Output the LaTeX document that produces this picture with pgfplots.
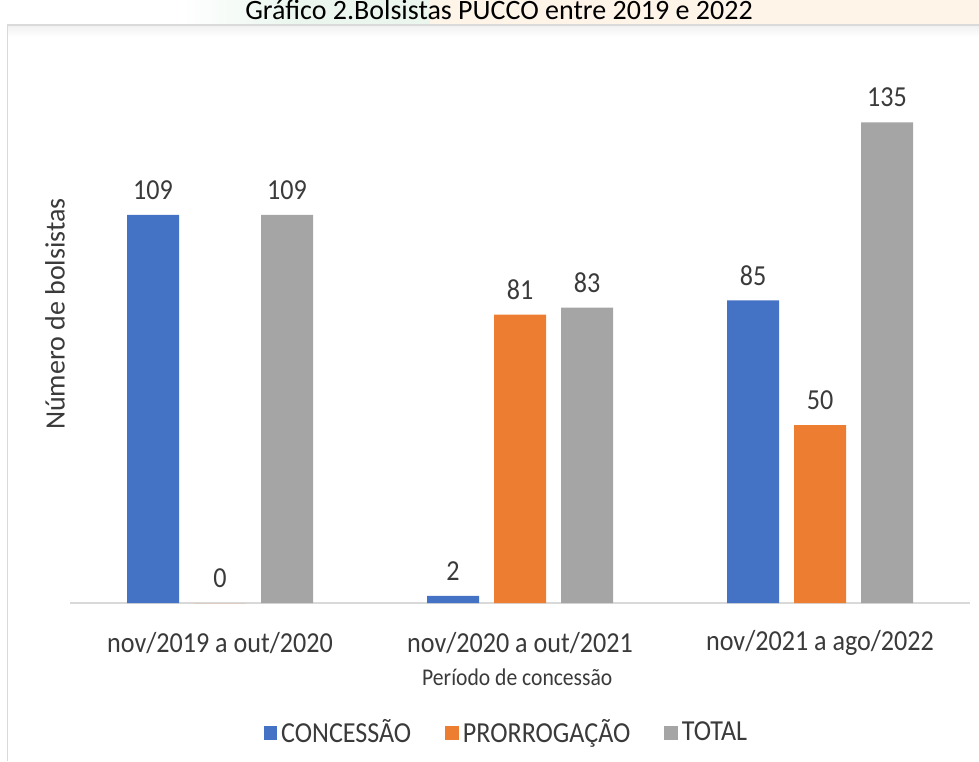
\documentclass[border=0pt]{standalone}
\usepackage{fontspec}
\setmainfont{Carlito}[FakeStretch=0.9]
\newfontfamily\plainfont{Carlito}
\usepackage{pgfplots}
\pgfplotsset{compat=1.18}
\definecolor{cblue}{HTML}{4472C4}
\definecolor{corange}{HTML}{ED7D31}
\definecolor{cgray}{HTML}{A5A5A5}
\definecolor{txt}{HTML}{3A3A3A}
\definecolor{axgray}{HTML}{D9D9D9}
\definecolor{framegray}{HTML}{DADADA}
\definecolor{bandgreen}{HTML}{EAF6EE}
\definecolor{bandpeach}{HTML}{FEF4E8}
\begin{document}
\begin{tikzpicture}
\path[use as bounding box] (0,0) rectangle (489.5pt,380.5pt);
\clip (0,0) rectangle (489.5pt,380.5pt);
% title band
\fill[bandpeach] (215pt,368pt) rectangle (489.5pt,380.5pt);
\shade[left color=white, right color=bandgreen] (90pt,368pt) rectangle (150pt,380.5pt);
\fill[bandgreen] (150pt,368pt) rectangle (215pt,380.5pt);
\node[anchor=base, inner sep=0pt, text=black, font=\plainfont\fontsize{14}{17}\selectfont] at (249.5pt,370.5pt) {Gráfico 2.Bolsistas PUCCO entre 2019 e 2022};
% frame
\shade[top color=framegray!40, bottom color=white] (3.7pt,368pt) rectangle (489.5pt,362pt);
\draw[framegray, line width=0.8pt] (3.7pt,0pt) -- (3.7pt,368pt) -- (489.5pt,368pt);
\begin{axis}[
  at={(35pt,79pt)}, anchor=south west,
  scale only axis, width=450pt, height=267pt,
  xmin=-0.5, xmax=2.5, ymin=0, ymax=150,
  enlargelimits=false, clip=false,
  axis x line*=bottom, axis y line*=left,
  x axis line style={draw=axgray, line width=0.8pt},
  y axis line style={draw=none},
  ytick=\empty,
  xtick={0,1,2}, major tick length=0pt,
  xticklabels={nov/2019 a out/2020, nov/2020 a out/2021, nov/2021 a ago/2022},
  xticklabel style={anchor=center, yshift=-20pt, text=txt, font=\fontsize{14.5}{17}\selectfont},
  xlabel={Período de concessão},
  xlabel style={at={(axis description cs:0.497,-0.1386)}, anchor=center, text=txt, font=\fontsize{12}{14}\selectfont},
  ylabel={Número de bolsistas},
  ylabel style={at={(axis description cs:-0.0167,0.541)}, anchor=center, text=txt, font=\plainfont\fontsize{14}{17}\selectfont},
  /pgf/number format/assume math mode=true,
  ybar, bar width=26pt,
  nodes near coords,
  every node near coord/.append style={anchor=center, yshift=12.5pt, text=txt, font=\fontsize{14.5}{17}\selectfont},
  legend columns=-1,
  legend style={at={(axis description cs:0.486,-0.243)}, anchor=center, draw=none, fill=none,
    text=txt, font=\fontsize{14.5}{17}\selectfont,
    /tikz/every even column/.append style={column sep=15pt}},
]
\addplot[fill=cblue, draw=none, bar shift=-33.5pt,
  legend image code/.code={\fill[cblue] (0pt,-3.4pt) rectangle (6.8pt,3.4pt);}]
  coordinates {(0,109) (1,2) (2,85)};
\addplot[fill=corange, draw=none, bar shift=0pt,
  legend image code/.code={\fill[corange] (0pt,-3.4pt) rectangle (6.8pt,3.4pt);}]
  coordinates {(0,0) (1,81) (2,50)};
\addplot[fill=cgray, draw=none, bar shift=33.5pt,
  legend image code/.code={\fill[cgray] (0pt,-3.4pt) rectangle (6.8pt,3.4pt);}]
  coordinates {(0,109) (1,83) (2,135)};
\legend{CONCESSÃO, PRORROGAÇÃO, TOTAL}
\end{axis}
\end{tikzpicture}
\end{document}
